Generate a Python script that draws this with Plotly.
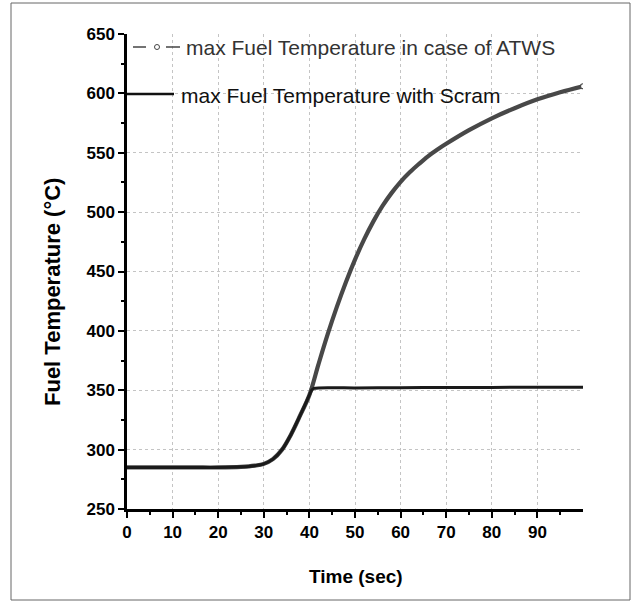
import plotly.graph_objects as go

# Time axis (s) and maximum fuel temperature (°C) for the two transients
time_atws = [0, 5, 10, 15, 20, 25, 28, 30, 32, 34, 36, 38, 40, 42, 44, 46, 48, 50,
             52, 54, 56, 58, 60, 62, 64, 66, 68, 70, 75, 80, 85, 90, 95, 100]
temp_atws = [285, 285, 285, 285, 285, 285.5, 286.5, 288, 292, 300, 313, 329, 346, 372,
             397, 420, 441, 460, 477, 492, 505, 516, 525.5, 533.5, 540.5, 547, 552.5,
             557.5, 569, 579, 587.5, 595, 601, 606]

time_scram = [0, 5, 10, 15, 20, 25, 28, 30, 32, 34, 36, 38, 40, 40.5, 41, 42, 50, 60,
              70, 80, 90, 100]
temp_scram = [285, 285, 285, 285, 285, 285.5, 286.5, 288, 292, 300, 313, 329, 346, 350,
              351.5, 352, 352, 352.2, 352.3, 352.4, 352.5, 352.5]

x_ticks = [0, 10, 20, 30, 40, 50, 60, 70, 80, 90]
x_minor = [5, 15, 25, 35, 45, 55, 65, 75, 85, 95]
y_ticks = [250, 300, 350, 400, 450, 500, 550, 600, 650]
y_minor = [275, 325, 375, 425, 475, 525, 575, 625]

label_atws = "max Fuel Temperature in case of ATWS"
label_scram = "max Fuel Temperature with Scram"
x_title = "Time (sec)"
y_title = "Fuel Temperature (°C)"

W, H = 632, 603
L, R, T, B = 127, 49, 34, 94
PW, PH = W - L - R, H - T - B


def px(xp):
    return (xp - L) / PW


def py(yp):
    return (H - B - yp) / PH


sans = "Liberation Sans, Arial, sans-serif"

fig = go.Figure()

fig.add_trace(go.Scatter(
    x=time_atws, y=temp_atws, mode="lines",
    line=dict(color="#484848", width=4.2, shape="spline", smoothing=1.0),
    showlegend=False, hoverinfo="skip",
))
fig.add_trace(go.Scatter(
    x=time_atws[-1:], y=temp_atws[-1:], mode="markers",
    marker=dict(symbol="circle", size=5, color="white",
                line=dict(color="#484848", width=1.2)),
    showlegend=False, hoverinfo="skip",
))
fig.add_trace(go.Scatter(
    x=time_scram, y=temp_scram, mode="lines",
    line=dict(color="#1a1a1a", width=3, shape="spline", smoothing=0.5),
    showlegend=False, hoverinfo="skip",
))

axis_common = dict(
    showline=True, linecolor="black", linewidth=2.5,
    ticks="outside", ticklen=6, tickwidth=2, tickcolor="black",
    showgrid=True, gridcolor="#c4c4c4", gridwidth=1, griddash="dot",
    zeroline=False, mirror=False,
    tickfont=dict(family=sans, size=17, color="black", weight="bold"),
)

fig.update_xaxes(
    range=[0, 100], tickmode="array", tickvals=x_ticks,
    minor=dict(tickvals=x_minor, ticks="outside", ticklen=3.5, tickwidth=2,
               tickcolor="black", showgrid=False),
    **axis_common,
)
fig.update_yaxes(
    range=[250, 650], tickmode="array", tickvals=y_ticks,
    minor=dict(tickvals=y_minor, ticks="outside", ticklen=3.5, tickwidth=2,
               tickcolor="black", showgrid=False),
    **axis_common,
)

shapes = [
    # white band behind the first legend row
    dict(type="rect", xref="paper", yref="paper", x0=0.003, x1=1.0,
         y0=py(65), y1=1.0, fillcolor="white", line=dict(width=0), layer="between"),
    # legend symbols
    dict(type="line", xref="paper", yref="paper", x0=px(133), x1=px(146),
         y0=py(47), y1=py(47), line=dict(color="#454545", width=1.5)),
    dict(type="line", xref="paper", yref="paper", x0=px(166), x1=px(180),
         y0=py(47), y1=py(47), line=dict(color="#454545", width=1.5)),
    dict(type="circle", xref="paper", yref="paper", x0=px(154.5), x1=px(159.5),
         y0=py(49.5), y1=py(44.5), line=dict(color="#454545", width=1)),
    dict(type="line", xref="paper", yref="paper", x0=px(127), x1=px(174),
         y0=py(94), y1=py(94), line=dict(color="#111111", width=2.5)),
    # outer frame
    dict(type="rect", xref="paper", yref="paper", x0=px(11), x1=px(630),
         y0=py(600), y1=py(3), line=dict(color="#666666", width=1),
         fillcolor="rgba(0,0,0,0)", layer="above"),
]

annotations = [
    dict(text=label_atws, xref="paper", yref="paper", x=px(184), y=py(47),
         xanchor="left", yanchor="middle", showarrow=False,
         font=dict(family=sans, size=21, color="#333333")),
    dict(text=label_scram, xref="paper", yref="paper", x=px(179), y=py(95),
         xanchor="left", yanchor="middle", showarrow=False,
         font=dict(family=sans, size=21, color="#111111")),
    dict(text=x_title, xref="paper", yref="paper", x=px(356), y=py(576),
         xanchor="center", yanchor="middle", showarrow=False,
         font=dict(family=sans, size=19, color="black", weight="bold")),
    dict(text=y_title, xref="paper", yref="paper", x=px(52), y=py(292),
         xanchor="center", yanchor="middle", showarrow=False, textangle=-90,
         font=dict(family=sans, size=22, color="black", weight="bold")),
]

fig.update_layout(
    width=W, height=H, autosize=False,
    margin=dict(l=L, r=R, t=T, b=B),
    paper_bgcolor="white", plot_bgcolor="white",
    shapes=shapes, annotations=annotations,
    showlegend=False,
)

fig.write_html("out.html")
